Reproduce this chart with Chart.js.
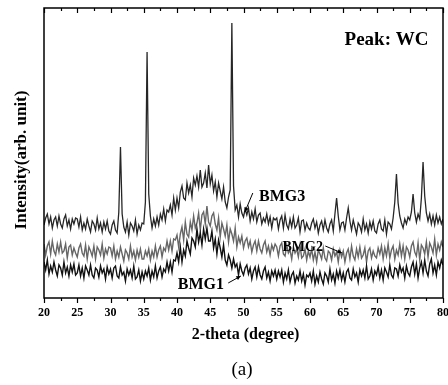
<!DOCTYPE html>
<html>
<head>
<meta charset="utf-8">
<script src="https://cdn.jsdelivr.net/npm/chart.js@4.4.1/dist/chart.umd.min.js"></script>
<style>
  html, body { margin: 0; padding: 0; background: #fff; }
  #wrap { position: relative; width: 448px; height: 385px; }
</style>
</head>
<body>
<div id="wrap"><canvas id="xrd"></canvas></div>
<script>
// 2-theta sampling of the scans (deg)
const thetaStart = 20;
const thetaStep = 0.25;

// Intensities (arb. unit, offset traces), one row = 5 degrees
const bmg1 = [
  36,28,38,24,32,26,36,28,22,33,30,23,36,25,31,22,33,26,34,23,
  25,33,22,30,20,32,28,23,33,23,20,30,28,21,32,25,29,19,31,24,
  29,20,30,32,22,20,31,23,26,17,29,23,28,20,32,19,21,28,17,26,
  19,27,22,30,18,27,21,32,20,27,31,21,29,26,36,27,36,26,38,37,
  45,36,51,36,48,42,57,50,44,60,57,51,69,56,65,53,69,59,70,57,
  57,67,50,59,44,58,50,41,53,38,33,43,38,30,39,31,34,23,34,27,
  23,30,33,24,30,19,27,31,21,31,23,19,27,31,20,26,17,27,22,28,
  19,27,21,28,16,25,19,28,16,23,26,15,22,18,27,17,24,13,23,21,
  25,17,27,14,22,16,26,19,14,25,22,16,29,18,24,15,27,20,28,18,
  25,16,26,29,20,18,29,21,25,16,28,22,28,20,32,19,22,29,18,27,
  23,31,20,28,18,30,26,21,33,23,20,30,29,22,33,26,30,20,32,25,
  22,31,36,24,34,20,30,36,25,38,27,22,34,39,25,33,23,36,30,38,
  33
];
const bmg2 = [
  54,43,52,56,44,57,47,43,54,46,56,45,47,54,40,51,53,43,50,45,
  41,50,54,45,42,53,39,51,47,42,52,39,51,48,43,54,40,49,44,51,
  50,42,52,39,47,41,51,44,37,48,45,39,52,41,47,38,48,41,49,39,
  39,47,42,49,38,47,41,52,41,48,52,41,50,47,57,48,57,47,59,58,
  63,51,64,71,58,76,64,61,76,68,82,70,75,85,68,83,86,74,92,76,
  72,82,85,74,68,80,61,75,69,62,73,56,69,64,57,70,51,61,55,62,
  50,57,60,51,57,46,53,57,47,57,49,45,53,57,46,52,43,53,48,54,
  51,42,52,55,44,42,53,45,48,39,51,45,49,41,53,40,42,49,38,47,
  41,49,38,46,36,48,44,39,50,40,37,47,45,38,49,42,46,36,48,41,
  47,36,45,49,39,52,42,38,49,41,51,40,43,50,36,47,50,40,47,42,
  40,50,44,52,39,50,42,54,40,48,52,39,48,43,54,42,52,39,51,48,
  41,52,56,46,42,55,38,53,50,44,56,41,55,51,45,59,43,54,48,56,
  51
];
const bmg3 = [
  73,80,84,74,81,70,78,81,72,82,74,70,79,83,72,78,69,79,74,80,
  79,71,81,68,75,69,79,72,66,77,74,68,80,69,75,66,76,69,77,67,
  64,73,77,68,65,86,151,84,71,66,76,63,75,72,67,78,64,73,68,75,
  74,96,246,104,82,70,79,72,81,73,84,78,89,77,88,86,93,83,100,88,
  100,90,106,112,100,98,115,105,113,101,120,113,122,111,128,111,115,125,110,133,
  114,123,107,116,101,115,107,99,111,96,90,101,108,275,112,88,93,81,94,85,
  81,89,83,90,77,86,79,89,76,83,85,74,80,76,84,74,81,70,80,78,
  80,69,78,82,70,83,73,69,79,71,81,70,73,80,66,77,78,68,75,70,
  68,75,79,70,76,65,73,77,68,78,70,66,74,78,67,84,100,82,68,75,
  76,68,80,90,77,68,78,71,64,75,72,66,79,68,74,65,76,69,77,67,
  65,74,78,69,67,78,64,76,74,69,80,96,124,95,82,75,70,79,74,81,
  78,86,104,85,76,84,79,100,136,102,85,77,84,74,82,73,83,75,81,74,
  79
];

const seriesNames = ['BMG1', 'BMG2', 'BMG3'];
const xTicks = [20, 25, 30, 35, 40, 45, 50, 55, 60, 65, 70, 75, 80];

function toPoints(arr) {
  return arr.map((v, i) => ({ x: thetaStart + i * thetaStep, y: v }));
}

const serif = '"Liberation Serif", "Times New Roman", serif';

// frame, top ticks, tick labels, texts and arrows
const decor = {
  id: 'decor',
  afterDraw(chart) {
    const c = chart.ctx;
    const a = chart.chartArea;
    const xs = chart.scales.x;
    const ys = chart.scales.y;
    c.save();
    c.strokeStyle = '#000';
    c.lineWidth = 1.5;
    c.strokeRect(a.left, a.top, a.right - a.left, a.bottom - a.top);

    c.lineWidth = 1.2;
    for (let t = 20; t <= 80; t += 2.5) {
      const px = Math.round(xs.getPixelForValue(t)) + 0.5;
      const major = t % 5 === 0;
      c.beginPath();
      c.moveTo(px, a.top);
      c.lineTo(px, a.top + (major ? 5 : 3));
      c.moveTo(px, a.bottom);
      c.lineTo(px, a.bottom + (major ? 5 : 3));
      c.stroke();
    }

    c.fillStyle = '#000';
    c.textAlign = 'center';
    c.textBaseline = 'middle';
    c.font = 'bold 12px ' + serif;
    xTicks.forEach(t => c.fillText(String(t), xs.getPixelForValue(t), a.bottom + 15));

    c.font = 'bold 19px ' + serif;
    c.fillText('Peak: WC', xs.getPixelForValue(71.5), ys.getPixelForValue(258));

    c.font = 'bold 16px ' + serif;
    c.fillText(seriesNames[2], xs.getPixelForValue(55.8), ys.getPixelForValue(101));
    c.fillText(seriesNames[0], xs.getPixelForValue(43.6), ys.getPixelForValue(13));
    c.font = 'bold 14px ' + serif;
    c.fillText(seriesNames[1], xs.getPixelForValue(58.9), ys.getPixelForValue(51));

    const arrow = (x1, y1, x2, y2) => {
      const p1 = [xs.getPixelForValue(x1), ys.getPixelForValue(y1)];
      const p2 = [xs.getPixelForValue(x2), ys.getPixelForValue(y2)];
      const ang = Math.atan2(p2[1] - p1[1], p2[0] - p1[0]);
      c.lineWidth = 1;
      c.beginPath();
      c.moveTo(p1[0], p1[1]);
      c.lineTo(p2[0], p2[1]);
      c.stroke();
      c.beginPath();
      c.moveTo(p2[0], p2[1]);
      c.lineTo(p2[0] - 5 * Math.cos(ang - 0.45), p2[1] - 5 * Math.sin(ang - 0.45));
      c.lineTo(p2[0] - 5 * Math.cos(ang + 0.45), p2[1] - 5 * Math.sin(ang + 0.45));
      c.closePath();
      c.fill();
    };
    arrow(51.4, 105, 50.2, 86);
    arrow(62.3, 52, 64.8, 45);
    arrow(47.7, 15, 49.6, 22);

    c.font = 'bold 16px ' + serif;
    c.fillText('2-theta (degree)', (a.left + a.right) / 2 + 2, 335);
    c.font = '19px ' + serif;
    c.fillText('(a)', 242, 370);

    c.save();
    c.translate(22, (a.top + a.bottom) / 2 + 7);
    c.rotate(-Math.PI / 2);
    c.font = 'bold 17px ' + serif;
    c.fillText('Intensity(arb. unit)', 0, 0);
    c.restore();
    c.restore();
  }
};

new Chart(document.getElementById('xrd'), {
  type: 'line',
  data: {
    datasets: [
      { label: seriesNames[0], data: toPoints(bmg1), borderColor: '#111', borderWidth: 1.4, pointRadius: 0, tension: 0 },
      { label: seriesNames[1], data: toPoints(bmg2), borderColor: '#666', borderWidth: 1.4, pointRadius: 0, tension: 0 },
      { label: seriesNames[2], data: toPoints(bmg3), borderColor: '#262626', borderWidth: 1.3, pointRadius: 0, tension: 0 }
    ]
  },
  options: {
    responsive: true,
    maintainAspectRatio: false,
    animation: false,
    devicePixelRatio: 1,
    layout: { padding: { left: 44, right: 5, top: 8, bottom: 0 } },
    plugins: { legend: { display: false }, tooltip: { enabled: false } },
    scales: {
      x: {
        type: 'linear',
        min: 20,
        max: 80,
        afterBuildTicks: (scale) => { scale.ticks = xTicks.map(v => ({ value: v })); },
        afterFit: (scale) => { scale.height = 87; },
        ticks: { display: false },
        grid: { display: false },
        border: { display: false }
      },
      y: { display: false, min: 0, max: 290 }
    }
  },
  plugins: [decor]
});
</script>
</body>
</html>
